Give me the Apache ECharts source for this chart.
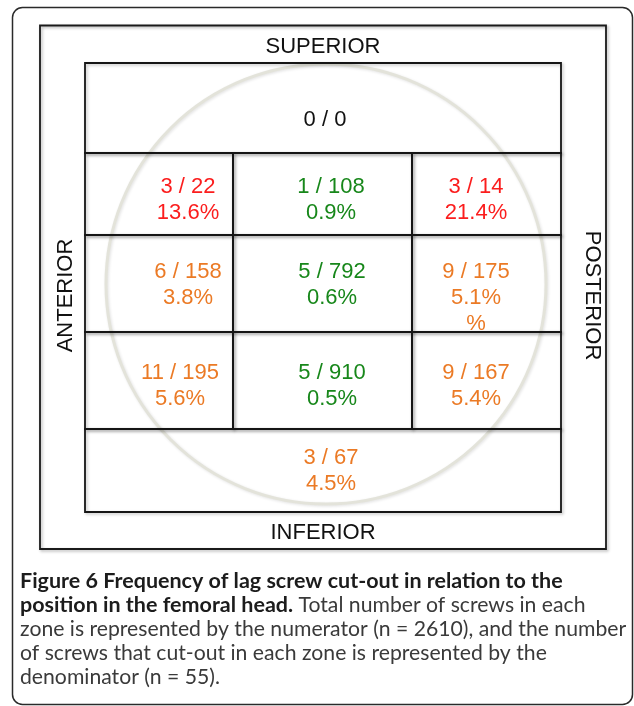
<!DOCTYPE html>
<html lang="en">
<head>
  <meta charset="UTF-8">
  <title>Figure 6 - lag screw cut-out by zone</title>
  <script src="https://cdn.jsdelivr.net/npm/echarts@6/dist/echarts.min.js"></script>
  <style>
    html, body { margin: 0; padding: 0; background: #fff; }
  </style>
</head>
<body>
<div id="main" style="width: 634px;height:706px;"></div>
<script type="text/javascript">
  // zone data (top to bottom, anterior to posterior)
  var zones = ['Superior', 'Sup-Ant', 'Sup-Centre', 'Sup-Post', 'Mid-Ant', 'Centre', 'Mid-Post',
    'Inf-Ant', 'Inf-Centre', 'Inf-Post', 'Inferior'];
  var cutOuts = [0, 3, 1, 3, 6, 5, 9, 11, 5, 9, 3];
  var screws = [0, 22, 108, 14, 158, 792, 175, 195, 910, 167, 67];
  var rates = ['', '13.6%', '0.9%', '21.4%', '3.8%', '0.6%', '5.1%', '5.6%', '0.5%', '5.4%', '4.5%'];
  var extras = ['', '', '', '', '', '', '%', '', '', '', ''];
  var risk = ['none', 'high', 'low', 'high', 'mid', 'low', 'mid', 'mid', 'low', 'mid', 'mid'];

  // layout of the zone grid (axis units), kept apart from the data
  var colEdges = [0, 148, 327, 476];
  var rowEdges = [0, 90, 172, 269, 366, 449];
  // [row, first column, column span]
  var zoneCell = [[0, 0, 3], [1, 0, 1], [1, 1, 1], [1, 2, 1], [2, 0, 1], [2, 1, 1], [2, 2, 1],
    [3, 0, 1], [3, 1, 1], [3, 2, 1], [4, 0, 3]];
  // where the first text line sits in each zone (axis units)
  var labelAt = [[240, 57], [103, 124], [246, 124], [391, 124], [103, 208.7], [247, 208.7], [391, 208.7],
    [95, 309.7], [247, 309.7], [391, 309.7], [246, 394.7]];

  var riskColor = { none: '#111', high: '#fb1d1d', low: '#17871a', mid: '#eb7a25' };
  var boxFont = '22px "Liberation Sans", Arial, sans-serif';

  var myChart = echarts.init(document.getElementById('main'));

  var datas = zones.map(function (z, i) {
    return { name: z, value: [i, cutOuts[i], screws[i]] };
  });

  function renderItem(params, api) {
    var i = api.value(0);
    var cell = zoneCell[i];
    var p0 = api.coord([colEdges[cell[1]], rowEdges[cell[0]]]);
    var p1 = api.coord([colEdges[cell[1] + cell[2]], rowEdges[cell[0] + 1]]);
    var at = api.coord(labelAt[i]);
    var lines = [api.value(1) + ' / ' + api.value(2)];
    if (rates[i]) lines.push(rates[i]);
    if (extras[i]) lines.push(extras[i]);
    return {
      type: 'group',
      children: [
        {
          type: 'rect',
          shape: { x: p0[0], y: p0[1], width: p1[0] - p0[0], height: p1[1] - p0[1] },
          style: {
            fill: null, stroke: '#151515', lineWidth: 1.8,
            shadowBlur: 3, shadowColor: 'rgba(0,0,0,0.25)', shadowOffsetX: 1.5, shadowOffsetY: 1.5
          }
        },
        {
          type: 'text',
          z2: 10,
          style: {
            text: lines.join('\n'),
            x: at[0], y: at[1] - 13,
            align: 'center', verticalAlign: 'top',
            font: boxFont, lineHeight: 26,
            fill: riskColor[risk[i]]
          }
        }
      ]
    };
  }

  function hiddenAxis(extra, pad) {
    var base = {
      type: 'value', min: 0,
      nameLocation: 'middle',
      nameTextStyle: {
        fontFamily: '"Liberation Sans", Arial, sans-serif', fontSize: 22, color: '#111', lineHeight: 22,
        padding: pad || 0
      },
      axisLine: { show: false }, axisTick: { show: false },
      axisLabel: { show: false }, splitLine: { show: false }
    };
    return Object.assign(base, extra);
  }

  var option = {
    animation: false,
    backgroundColor: '#fff',
    grid: { left: 85, top: 63, width: 476, height: 449 },
    xAxis: [
      hiddenAxis({ max: 476, position: 'bottom', name: 'INFERIOR', nameGap: 10 }),
      hiddenAxis({ max: 476, position: 'top', name: 'SUPERIOR', nameGap: 5 })
    ],
    yAxis: [
      hiddenAxis({ max: 449, inverse: true, position: 'left', name: 'ANTERIOR', nameGap: 8, nameRotate: 90 }, [0, 16, 0, 0]),
      hiddenAxis({ max: 449, inverse: true, position: 'right', name: 'POSTERIOR', nameGap: 20, nameRotate: -90 }, [0, 0, 0, 16])
    ],
    graphic: [
      {
        type: 'rect', z: 0,
        shape: { x: 12.5, y: 7.5, width: 620, height: 697, r: 10 },
        style: { fill: null, stroke: '#2a2a2a', lineWidth: 1.5 }
      },
      {
        type: 'rect', z: 0,
        shape: { x: 40, y: 25.5, width: 566, height: 523.5 },
        style: {
          fill: null, stroke: '#1a1a1a', lineWidth: 1.8,
          shadowBlur: 3, shadowColor: 'rgba(0,0,0,0.3)', shadowOffsetX: 1.5, shadowOffsetY: 1.5
        }
      },
      {
        // faint outline of the femoral head
        type: 'circle', z: 0,
        shape: { cx: 326, cy: 284, r: 220 },
        style: {
          fill: null, stroke: '#e3e3da', lineWidth: 3,
          shadowBlur: 3, shadowColor: 'rgba(0,0,0,0.12)', shadowOffsetX: 1, shadowOffsetY: 1
        }
      },
      {
        type: 'text', z: 5,
        style: {
          x: 20, y: 569,
          text: '{b|Figure 6 Frequency of lag screw cut-out in relation to the}\n' +
            '{b|position in the femoral head.}{n| Total number of screws in each}\n' +
            '{n|zone is represented by the numerator (n = 2610), and the number}\n' +
            '{n|of screws that cut-out in each zone is represented by the}\n' +
            '{n|denominator (n = 55).}',
          rich: {
            b: { fontFamily: 'Lato', fontWeight: 'bold', fontSize: 21.5, lineHeight: 24, fill: '#1c1c1c' },
            n: { fontFamily: 'Lato', fontSize: 21.2, lineHeight: 24, fill: '#3a3a3a' }
          }
        }
      }
    ],
    series: [
      {
        type: 'custom',
        xAxisIndex: 0,
        yAxisIndex: 0,
        renderItem: renderItem,
        encode: { x: 1, y: 2 },
        data: datas
      }
    ]
  };
  myChart.setOption(option);
</script>
</body>
</html>
